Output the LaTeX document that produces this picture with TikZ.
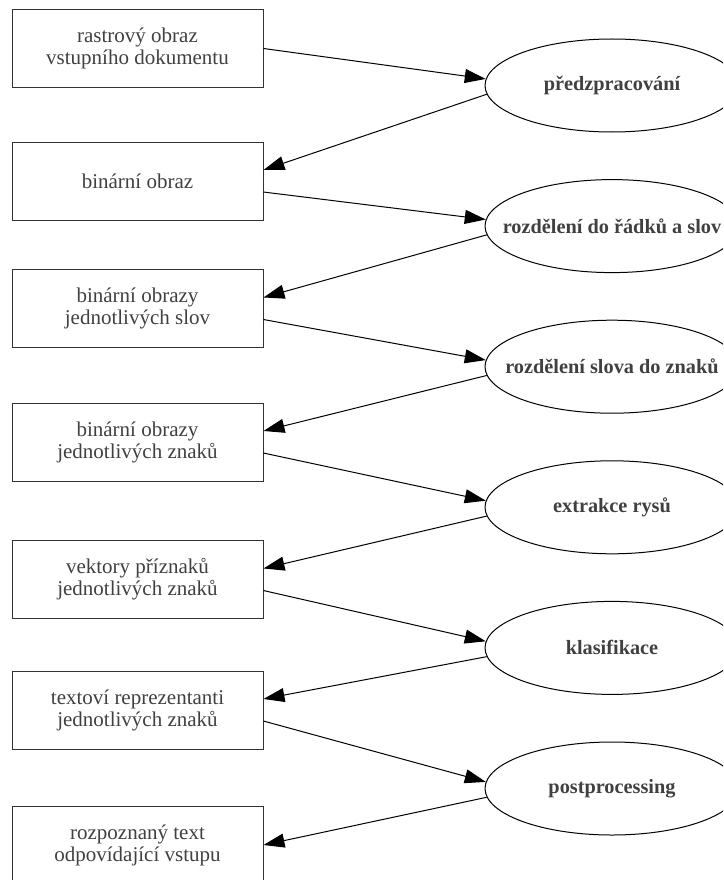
\documentclass[tikz,border=0pt]{standalone}
\usepackage{fontspec}
\setmainfont{Liberation Serif}
\usetikzlibrary{arrows.meta,shapes.geometric}

\begin{document}
\begin{tikzpicture}[x=1pt,y=-1pt,>={Triangle[length=21pt,width=14pt]},
  obraz/.style={draw=black!80,line width=1pt,minimum width=251pt,minimum height=78pt,
    inner sep=0pt,align=center,text=black!75,font=\fontsize{21}{22}\selectfont},
  proces/.style={draw,ellipse,line width=1pt,minimum width=254pt,minimum height=93pt,
    inner sep=0pt,text=black!75,font=\fontsize{20.3}{22}\selectfont\bfseries},
  tok/.style={->,line width=1pt}]
  \useasboundingbox (0,0) rectangle (723,880);
  \clip (0,0) rectangle (723,880);
  % data (left column)
  \node[obraz] (rastr) at (137.5,48.5) {rastrový obraz\\vstupního dokumentu};
  \node[obraz] (binar) at (137.5,181) {binární obraz};
  \node[obraz] (slova) at (137.5,308.5) {binární obrazy\\jednotlivých slov};
  \node[obraz] (znaky) at (137.5,442) {binární obrazy\\jednotlivých znaků};
  \node[obraz] (priznaky) at (137.5,579.5) {vektory příznaků\\jednotlivých znaků};
  \node[obraz] (reprez) at (137.5,710) {textoví reprezentanti\\jednotlivých znaků};
  \node[obraz] (vysledek) at (137.5,845) {rozpoznaný text\\odpovídající vstupu};
  % processing steps (right column)
  \node[proces] (predzpr) at (612,85.5) {\makebox[0pt]{předzpracování}};
  \node[proces] (radky) at (612,226.1) {\makebox[0pt]{rozdělení do řádků a slov}};
  \node[proces] (rozdel) at (612,366.7) {\makebox[0pt]{rozdělení slova do znaků}};
  \node[proces] (extrakce) at (612,507.3) {\makebox[0pt]{extrakce rysů}};
  \node[proces] (klasif) at (612,647.9) {\makebox[0pt]{klasifikace}};
  \node[proces] (postpr) at (612,788.5) {\makebox[0pt]{postprocessing}};
  % flow
  \draw[tok] (rastr.east) -- (predzpr.177);
  \draw[tok] (predzpr.184) -- (binar.5);
  \draw[tok] (binar.355) -- (radky.177);
  \draw[tok] (radky.184) -- (slova.5);
  \draw[tok] (slova.355) -- (rozdel.177);
  \draw[tok] (rozdel.184) -- (znaky.5);
  \draw[tok] (znaky.355) -- (extrakce.177);
  \draw[tok] (extrakce.184) -- (priznaky.5);
  \draw[tok] (priznaky.355) -- (klasif.177);
  \draw[tok] (klasif.184) -- (reprez.5);
  \draw[tok] (reprez.355) -- (postpr.177);
  \draw[tok] (postpr.184) -- (vysledek.east);
\end{tikzpicture}
\end{document}
